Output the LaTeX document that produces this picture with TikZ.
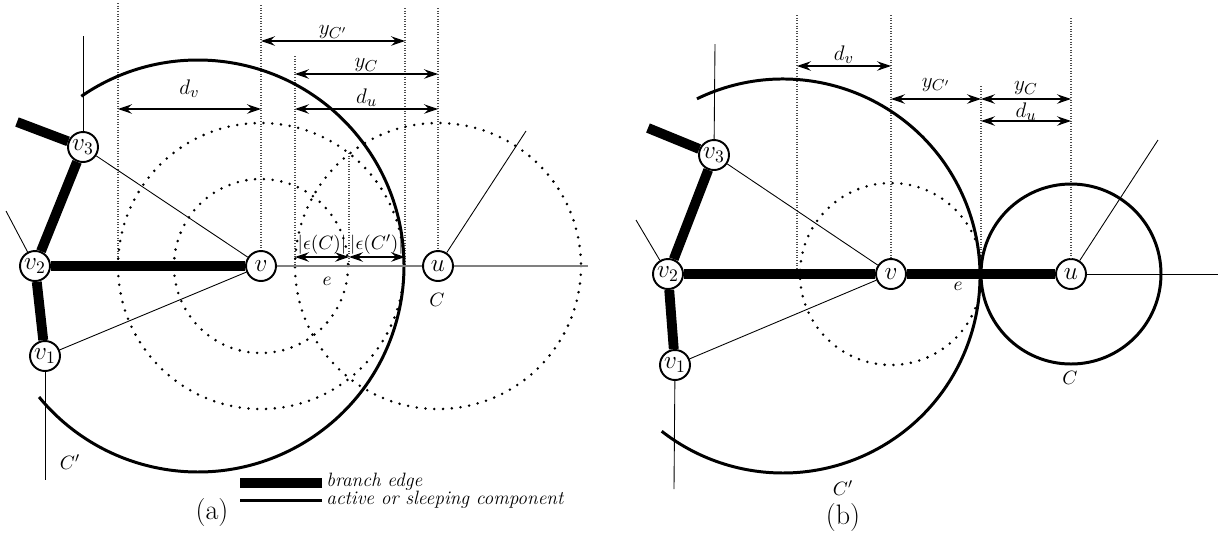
\documentclass[tikz,border=0pt]{standalone}
\usetikzlibrary{arrows.meta}
\tikzset{
  vnode/.style={circle, draw, fill=white, line width=1.1pt, inner sep=0pt, minimum size=0.6cm, font=\fontsize{14}{16}\selectfont},
  branch/.style={line width=5.6pt},
  comp/.style={line width=1.7pt},
  thinedge/.style={line width=0.5pt},
  axis/.style={line width=0.8pt, draw=black!50},
  guide/.style={line width=0.6pt, draw=black!70, dash pattern=on 0.5pt off 1pt},
  ring/.style={line width=1.6pt, line cap=round, dash pattern=on 0pt off 5pt},
  dim/.style={<->, >={Stealth[length=2.8mm, width=1.9mm, inset=1mm]}, line width=0.6pt},
  lbl/.style={font=\fontsize{12.5}{15}\selectfont, inner sep=1pt},
  eps/.style={font=\fontsize{11}{13}\selectfont, inner sep=1pt},
  tag/.style={font=\fontsize{16}{19}\selectfont, inner sep=0pt},
  legend/.style={font=\fontsize{11}{13}\selectfont\itshape, anchor=west, inner sep=0pt},
}
\begin{document}
\begin{tikzpicture}[x=0.02cm, y=-0.02cm]
  \useasboundingbox (0,0) rectangle (1218,539);

  % (a) nodes
  \node[vnode] (av)  at (261,266) {$v$};
  \node[vnode] (au)  at (438,266) {$u$};
  \node[vnode] (av1) at (45,356)  {$v_1$};
  \node[vnode] (av2) at (35,266)  {$v_2$};
  \node[vnode] (av3) at (83,147)  {$v_3$};
  % (a) guides and rings
  \foreach \x/\t in {118/3, 295/56, 349/153, 405/8}
    \draw[guide] (\x,\t) -- (\x,268);
  \draw[guide] (261,5) -- (av);
  \draw[guide] (438,8) -- (au);
  \draw[ring] (av) circle[radius=143];
  \draw[ring] (av) circle[radius=87];
  \draw[ring] (au) circle[radius=143];
  % (a) component C'
  \draw[comp] (198,266) ++(-124.5:206) arc[start angle=-124.5, end angle=140.5, radius=206];
  % (a) edges
  \coordinate (a3top) at (83,36);
  \coordinate (a3stub) at (17,122);
  \coordinate (a2stub) at (6,211);
  \coordinate (a1low) at (45,480);
  \coordinate (autip) at (526,131);
  \coordinate (aend) at (588,266);
  \draw[axis] (av) -- (au);
  \draw[axis] (au) -- (aend);
  \draw[thinedge] (av3) -- (a3top);
  \draw[thinedge] (av2) -- (a2stub);
  \draw[thinedge] (av1) -- (a1low);
  \draw[thinedge] (av3) -- (av);
  \draw[thinedge] (av1) -- (av);
  \draw[thinedge] (au) -- (autip);
  \draw[branch] (av2) -- (av);
  \draw[branch] (av2) -- (av3);
  \draw[branch] (av2) -- (av1);
  \draw[branch] (av3) -- (a3stub);
  % (a) dimensions
  \coordinate (aycp1) at (261,41);  \coordinate (aycp2) at (405,41);
  \coordinate (ayc1) at (295,74);   \coordinate (ayc2) at (438,74);
  \coordinate (adu1) at (295,109);  \coordinate (adu2) at (438,109);
  \coordinate (adv1) at (118,109);  \coordinate (adv2) at (261,109);
  \coordinate (aec1) at (295,257);  \coordinate (aec2) at (349,257);  \coordinate (aec3) at (405,257);
  \draw[dim] (aycp1) -- node[lbl, above] {$y_{C'}$} (aycp2);
  \draw[dim] (ayc1) -- node[lbl, above] {$y_C$} (ayc2);
  \draw[dim] (adu1) -- node[lbl, above] {$d_u$} (adu2);
  \draw[dim] (adv1) -- node[lbl, above, yshift=5pt] {$d_v$} (adv2);
  \draw[dim] (aec1) -- node[eps, above] {$|\epsilon(C)|$} (aec2);
  \draw[dim] (aec2) -- node[eps, above] {$|\epsilon(C')|$} (aec3);
  % (a) labels
  \node[eps] (ae) at (327,281) {$e$};
  \node[eps] (aC) at (437,300) {$C$};
  \node[eps] (aCp) at (70,462) {$C'$};
  \node[tag] (atag) at (212,512) {(a)};
  % legend
  \node[legend] (lgb) at (326,482) {branch edge};
  \node[legend] (lgc) at (326,500) {active or sleeping component};
  \draw[line width=5.2pt] (lgb.west) ++(-4,1) -- ++(-82,0);
  \draw[comp] (lgc.west) ++(-4,0) -- ++(-82,0);

  % (b) nodes
  \node[vnode] (bv)  at (891,274)  {$v$};
  \node[vnode] (bu)  at (1071,274) {$u$};
  \node[vnode] (bv1) at (675,365)  {$v_1$};
  \node[vnode] (bv2) at (668,274)  {$v_2$};
  \node[vnode] (bv3) at (714,155)  {$v_3$};
  % (b) guides and rings
  \foreach \x/\t in {797/15, 981/86}
    \draw[guide] (\x,\t) -- (\x,276);
  \draw[guide] (891,15) -- (bv);
  \draw[guide] (1071,18) -- (bu);
  \draw[ring] (bv) circle[radius=91];
  % (b) components C and C'
  \draw[comp] (783,276) ++(-115.9:197) arc[start angle=-115.9, end angle=128, radius=197];
  \draw[comp] (bu) circle[radius=90];
  % (b) edges
  \coordinate (b3top) at (715,44);
  \coordinate (b3stub) at (648,128);
  \coordinate (b2stub) at (636,220);
  \coordinate (b1low) at (674,489);
  \coordinate (butip) at (1158,140);
  \coordinate (bend) at (1218,274);
  \draw[thinedge] (bu) -- (bend);
  \draw[thinedge] (bv3) -- (b3top);
  \draw[thinedge] (bv2) -- (b2stub);
  \draw[thinedge] (bv1) -- (b1low);
  \draw[thinedge] (bv3) -- (bv);
  \draw[thinedge] (bv1) -- (bv);
  \draw[thinedge] (bu) -- (butip);
  \draw[branch] (bv2) -- (bv);
  \draw[branch] (bv) -- (bu);
  \draw[branch] (bv2) -- (bv3);
  \draw[branch] (bv2) -- (bv1);
  \draw[branch] (bv3) -- (b3stub);
  % (b) dimensions
  \coordinate (bdv1) at (797,66);   \coordinate (bdv2) at (891,66);
  \coordinate (bycp1) at (891,99);  \coordinate (bycp2) at (981,99);
  \coordinate (byc1) at (981,99);   \coordinate (byc2) at (1071,99);
  \coordinate (bdu1) at (981,121);  \coordinate (bdu2) at (1071,121);
  \draw[dim] (bdv1) -- node[lbl, above] {$d_v$} (bdv2);
  \draw[dim] (bycp1) -- node[lbl, above, yshift=3pt] {$y_{C'}$} (bycp2);
  \draw[dim] (byc1) -- node[lbl, above, yshift=1pt] {$y_C$} (byc2);
  \draw[dim] (bdu1) -- node[lbl, above, inner sep=0pt] {$d_u$} (bdu2);
  % (b) labels
  \node[eps] (be) at (958,286) {$e$};
  \node[eps] (bC) at (1070,378) {$C$};
  \node[eps, inner sep=0pt] (bCp) at (843,488) {$C'$};
  \node[tag] (btag) at (843,517) {(b)};
\end{tikzpicture}
\end{document}
